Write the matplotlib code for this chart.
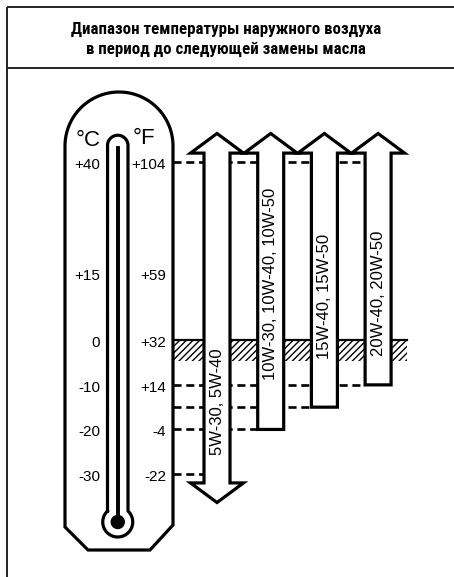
import numpy as np
import matplotlib
matplotlib.use('Agg')
import matplotlib.pyplot as plt
from matplotlib.patches import Polygon, Rectangle, Circle
from matplotlib.transforms import offset_copy

# thermometer scale (deg C) and its labels
celsius_ticks = [40, 15, 0, -10, -20, -30]
celsius_labels = ['+40', '+15', '0', '-10', '-20', '-30']
fahrenheit_labels = ['+104', '+59', '+32', '+14', '-4', '-22']

# oil grades and the outside temperature range for each (deg C)
oil_grades = ['5W-30, 5W-40', '10W-30, 10W-40, 10W-50',
              '15W-40, 15W-50', '20W-40, 20W-50']
range_low = [-30, -20, -15, -10]
range_high = [40, 40, 40, 40]
open_low = [True, False, False, False]

# zone around freezing shown hatched
freeze_top = 0
freeze_bottom = -4.7

title_lines = ['Диапазон температуры наружного воздуха',
               'в период до следующей замены масла']

W, H = 454, 577
plt.rcParams['font.family'] = ['Liberation Sans', 'DejaVu Sans']
plt.rcParams['lines.scale_dashes'] = False
plt.rcParams['hatch.linewidth'] = 1.0

# pixel row of 0 deg C and pixels per degree
Y0, PX_PER_C = 340.3, 4.457
c_top = Y0 / PX_PER_C
c_bot = (Y0 - H) / PX_PER_C

fig = plt.figure(figsize=(W / 100, H / 100), dpi=100)
ax = fig.add_axes([0, 0, 1, 1])
ax.set_xlim(0, W)
ax.set_ylim(H, 0)
ax.axis('off')

ax_t = fig.add_axes([0, 0, 1, 1])
ax_t.set_xlim(0, W)
ax_t.set_ylim(c_bot, c_top)
ax_t.axis('off')
ax_t.patch.set_visible(False)

LW = 2.3
frame_kw = dict(color='#222222', lw=1.4, solid_capstyle='butt')
ax.plot([7, 7], [7, H], **frame_kw)
ax.plot([7, W], [7, 7], **frame_kw)
ax.plot([7, W], [68, 68], **frame_kw)

for i, line in enumerate(title_lines):
    ax.text(226, 29 + 20 * i, line, ha='center', va='center', fontsize=12.2,
            fontweight='bold',
            family=['Roboto Condensed', 'Liberation Sans Narrow', 'Roboto', 'DejaVu Sans'])

# thermometer body
t = np.linspace(np.pi, 0, 60)
outline = [(65, 527)] + list(zip(119 + 54 * np.cos(t), 146 - 54 * np.sin(t))) + \
          [(173, 525), (150, 550), (88, 550)]
ax.add_patch(Polygon(outline, closed=True, fill=False, lw=LW, ec='black', joinstyle='miter'))

# tube with bulb
cx, r, R, by = 117.75, 10.25, 15, 522
jy = by - np.sqrt(R ** 2 - r ** 2)
tx = list(cx + r * np.cos(t))
ty = list(145.5 - r * np.sin(t))
a0 = np.arcsin(-np.sqrt(R ** 2 - r ** 2) / R)
a = np.linspace(a0, np.pi - a0, 80)
px = [cx - r] + tx + [cx + r] + list(cx + R * np.cos(a))
py = [jy] + ty + [jy] + list(by + R * np.sin(a))
ax.plot(px, py, color='black', lw=LW)
ax.plot([cx, cx], [148, by], color='black', lw=2.8)
ax.add_patch(Circle((cx, by), 6.5, color='black'))

ax.text(88, 140, '°C', ha='center', va='center', fontsize=16)
ax.text(144, 138, '°F', ha='center', va='center', fontsize=16)

lab_tr = offset_copy(ax_t.transData, fig=fig, y=-3, units='dots')
for c, lc, lf in zip(celsius_ticks, celsius_labels, fahrenheit_labels):
    ax_t.text(100, c, lc, ha='right', va='center', fontsize=11, transform=lab_tr)
    ax_t.text(166, c, lf, ha='right', va='center', fontsize=11, transform=lab_tr)

# arrows
x_first, step = 217, 53.7
shaft, head, head_h, gap = 13, 26.5, 4.4, 2.0
centers = [x_first + i * step for i in range(len(oil_grades))]
label_y = [-13.8, 12.6, 9.9, 10.6]
dash = dict(color='black', lw=1.9, linestyle=(0, (5.8, 3.4)), zorder=1)
body_x = 173

for xc, lo, hi, op, name, ly in zip(centers, range_low, range_high, open_low, oil_grades, label_y):
    top_base = hi + gap
    pts = [(xc - shaft, top_base), (xc - head, top_base), (xc, top_base + head_h),
           (xc + head, top_base), (xc + shaft, top_base)]
    if op:
        low_base = lo - gap
        pts += [(xc + shaft, low_base), (xc + head, low_base), (xc, low_base - head_h),
                (xc - head, low_base), (xc - shaft, low_base)]
    else:
        pts += [(xc + shaft, lo), (xc - shaft, lo)]
    ax_t.add_patch(Polygon(pts, closed=True, fc='white', ec='black', lw=LW,
                           joinstyle='miter', zorder=3))
    ax_t.text(xc, ly, name, rotation=90, ha='center', va='center', fontsize=12, zorder=4)
    ax_t.plot([body_x, xc - shaft], [lo, lo], **dash)

ax_t.plot([body_x, centers[-1] - shaft], [max(range_high)] * 2, **dash)

# freezing zone
right_edge = centers[-1] + 29
ax_t.add_patch(Rectangle((body_x, freeze_bottom), right_edge - body_x, freeze_top - freeze_bottom,
                         fill=False, hatch='/////', lw=0, zorder=1))
ax_t.plot([body_x, right_edge], [freeze_top] * 2, color='black', lw=1.6, zorder=1)

fig.savefig('out.png', dpi=100)
